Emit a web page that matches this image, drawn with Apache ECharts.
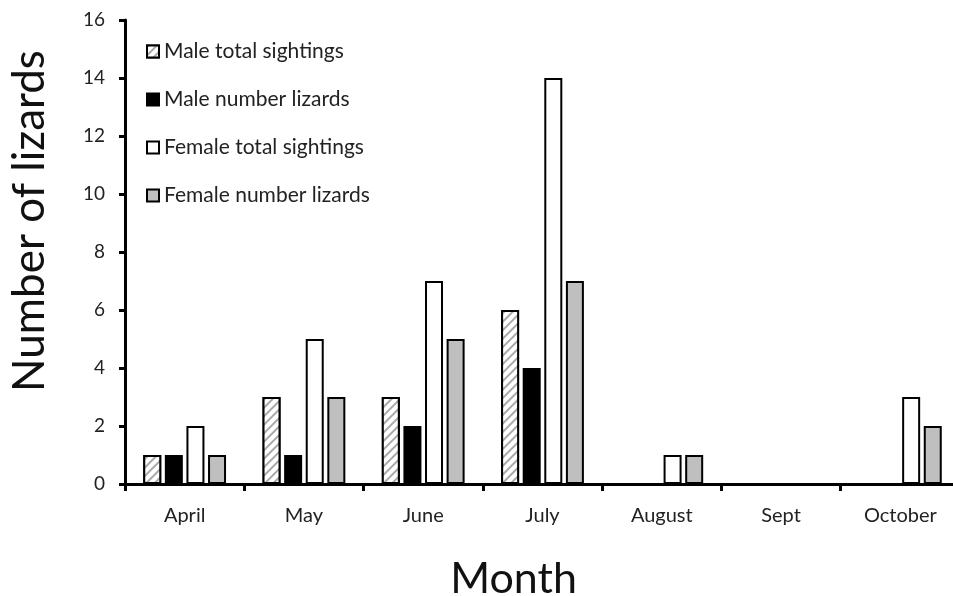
<!DOCTYPE html>
<html>
<head>
<meta charset="utf-8">
<script src="https://cdn.jsdelivr.net/npm/echarts@6/dist/echarts.min.js"></script>
<style>
  html, body { margin: 0; padding: 0; background: #fff; }
  #main { width: 953px; height: 596px; }
</style>
</head>
<body>
<div id="main"></div>
<script>
var months = ['April', 'May', 'June', 'July', 'August', 'Sept', 'October'];
var maleTotal = [1, 3, 3, 6, 0, 0, 0];
var maleNumber = [1, 1, 2, 4, 0, 0, 0];
var femaleTotal = [2, 5, 7, 14, 1, 0, 3];
var femaleNumber = [1, 3, 5, 7, 1, 0, 2];

var font = 'Lato, "Open Sans", sans-serif';
var myChart = echarts.init(document.getElementById('main'));

function barSeries(name, data, fill, decal) {
    var s = {
        name: name,
        type: 'bar',
        data: data,
        barWidth: 18,
        barGap: '20%',
        itemStyle: {
            color: fill,
            borderColor: '#000',
            borderWidth: 2
        }
    };
    if (decal) s.itemStyle.decal = decal;
    return s;
}

// diagonal hatch for male total sightings
var hatch = {
    symbol: 'rect',
    dashArrayX: [1, 0],
    dashArrayY: [2, 4],
    rotation: -Math.PI / 4,
    color: '#aaaaaa',
    backgroundColor: '#ffffff'
};

var option = {
    animation: false,
    grid: { left: 125, top: 20, right: -7, bottom: 112, containLabel: false, outerBoundsMode: 'none' },
    legend: {
        orient: 'vertical',
        left: 141,
        top: 36,
        icon: 'rect',
        itemWidth: 12,
        itemHeight: 12,
        itemGap: 27,
        textStyle: { fontFamily: font, fontSize: 21, color: '#222', padding: [0, 0, 0, 0] },
        data: ['Male total sightings', 'Male number lizards', 'Female total sightings', 'Female number lizards']
    },
    xAxis: {
        type: 'category',
        data: months,
        name: 'Month',
        nameLocation: 'middle',
        nameGap: 74,
        nameTextStyle: { fontFamily: font, fontSize: 43, color: '#111', padding: [0, 58, 0, 0] },
        axisLine: { lineStyle: { color: '#000', width: 3 } },
        axisTick: { show: true, length: 7, lineStyle: { color: '#000', width: 3 } },
        axisLabel: { fontFamily: font, fontSize: 20, color: '#222', margin: 22 }
    },
    yAxis: {
        type: 'value',
        min: 0,
        max: 16,
        interval: 2,
        name: 'Number of lizards',
        nameLocation: 'middle',
        nameGap: 73,
        nameTextStyle: { fontFamily: font, fontSize: 44, color: '#111', padding: [0, 0, 0, 62] },
        splitLine: { show: false },
        axisLine: { show: true, lineStyle: { color: '#000', width: 3 } },
        axisTick: { show: true, length: 6, lineStyle: { color: '#000', width: 3 } },
        axisLabel: { fontFamily: font, fontSize: 19, color: '#222', margin: 20 }
    },
    series: [
        barSeries('Male total sightings', maleTotal, '#ffffff', hatch),
        barSeries('Male number lizards', maleNumber, '#000000'),
        barSeries('Female total sightings', femaleTotal, '#ffffff'),
        barSeries('Female number lizards', femaleNumber, '#bfbfbf')
    ]
};

myChart.setOption(option);
</script>
</body>
</html>
